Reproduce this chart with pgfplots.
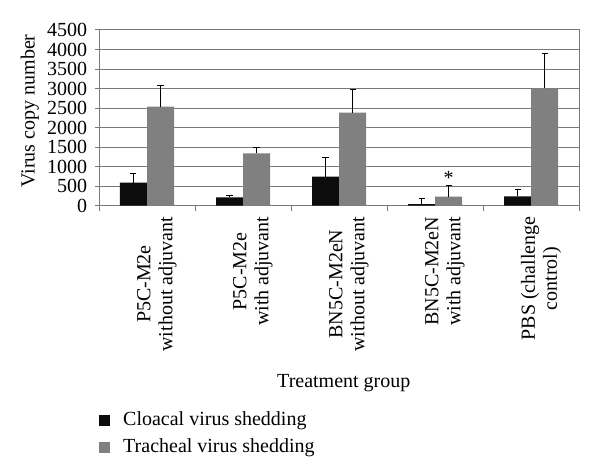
\documentclass[border=0pt]{standalone}
\usepackage{pgfplots}
\pgfplotsset{compat=1.18}
\usepackage{fontspec}
\setmainfont{Liberation Serif}
\definecolor{barblack}{RGB}{12,12,12}
\definecolor{bargray}{RGB}{128,128,128}
\definecolor{gridgray}{RGB}{120,120,120}
\begin{document}
\fontsize{20bp}{22bp}\selectfont
\begin{tikzpicture}[font=\fontsize{20bp}{22bp}\selectfont]
\path[use as bounding box] (0,0) rectangle (600bp,476bp);
\begin{axis}[
  at={(99bp,270.3bp)}, anchor=south west,
  scale only axis, width=480bp, height=175.7bp,
  xmin=-0.5, xmax=4.5, ymin=0, ymax=4500,
  ytick={0,500,...,4500},
  /pgf/number format/assume math mode=true,
  /pgf/number format/1000 sep={},
  ymajorgrids, grid style={gridgray, line width=1bp},
  axis line style={gridgray, line width=1bp},
  ybar=0pt, bar width=27bp,
  xtick={0,1,2,3,4},
  xticklabels={{P5C-M2e\\without adjuvant},{P5C-M2e\\with adjuvant},{BN5C-M2eN\\without adjuvant},{BN5C-M2eN\\with adjuvant},{PBS (challenge\\control)}},
  major x tick style={draw=none},
  minor xtick={-0.5,0.5,1.5,2.5,3.5,4.5},
  minor tick length=5bp, major tick length=4bp,
  tick align=outside, xtick pos=bottom, ytick pos=left,
  tick style={gridgray, line width=1bp},
  minor tick style={gridgray, line width=1bp},
  xticklabel style={rotate=90, anchor=east, align=center, yshift=-10bp},
  yticklabel style={xshift=-1bp},
  xlabel={Treatment group}, ylabel={Virus copy number},
  every axis x label/.style={at={(axis description cs:0.51,-1.009)}, anchor=center},
  every axis y label/.style={at={(axis description cs:-0.144,0.539)}, rotate=90, anchor=center},
  legend style={at={(axis description cs:0.0,-1.16)}, anchor=north west, draw=none, fill=none, inner sep=0pt, row sep=6bp, font=\fontsize{20bp}{22bp}\selectfont},
  legend cell align=left,
  error bars/y dir=plus, error bars/y explicit,
  error bars/error bar style={black, line width=1bp},
  error bars/error mark options={black, line width=1bp, mark size=3bp, rotate=90},
  clip=false,
]
\addplot[fill=barblack, draw=none, legend image code/.code={\fill[barblack] (0bp,-5.5bp) rectangle (11bp,5.5bp); \path (22bp,0bp);}]
  coordinates {(0,589) +- (0,223) (1,215) +- (0,59) (2,743) +- (0,497) (3,40) +- (0,157) (4,241) +- (0,169)};
\addlegendentry{Cloacal virus shedding}
\addplot[fill=bargray, draw=none, legend image code/.code={\fill[bargray] (0bp,-5.5bp) rectangle (11bp,5.5bp); \path (22bp,0bp);}]
  coordinates {(0,2536) +- (0,530) (1,1342) +- (0,154) (2,2382) +- (0,599) (3,230) +- (0,300) (4,3007) +- (0,896)};
\addlegendentry{Tracheal virus shedding}
\node[xshift=13.5bp, yshift=-3bp, anchor=center, inner sep=0pt] at (axis cs:3,786) {*};
\end{axis}
\end{tikzpicture}
\end{document}
